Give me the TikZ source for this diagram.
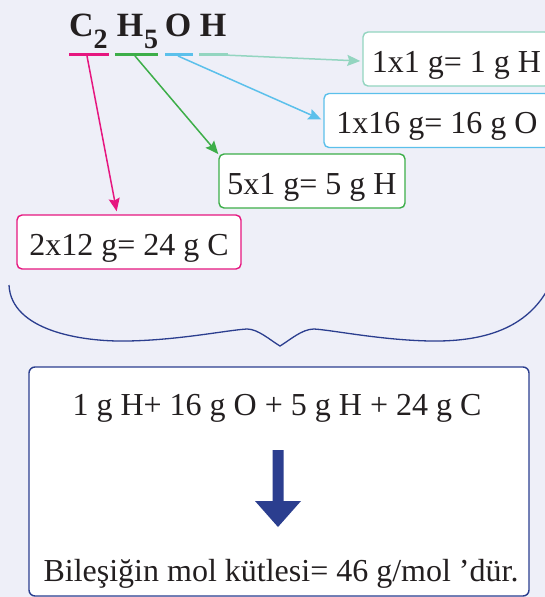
\documentclass[tikz,border=0pt]{standalone}
\usepackage{fontspec}
\setmainfont{Liberation Serif}
\usetikzlibrary{arrows.meta,calc}
\definecolor{bg}{HTML}{EEEFF8}
\definecolor{txt}{HTML}{231F20}
\definecolor{cmag}{HTML}{E6167F}
\definecolor{cgreen}{HTML}{3DAE49}
\definecolor{cblue}{HTML}{5BC0EB}
\definecolor{cteal}{HTML}{93D5C0}
\definecolor{dblue}{HTML}{2B3E8F}
\tikzset{
  valbox/.style={draw=#1, rounded corners=5pt, line width=1.4pt, fill=white,
    text=txt, font=\fontsize{32}{38}\selectfont, text height=26pt, text depth=0pt,
    minimum height=54pt, inner xsep=0pt, inner ysep=0pt},
  glyph/.style={text=txt, inner sep=0pt, anchor=base, font=\bfseries\fontsize{34}{40}\selectfont},
  subglyph/.style={text=txt, inner sep=0pt, anchor=base, font=\bfseries\fontsize{28}{34}\selectfont},
  uline/.style={draw=#1, line width=3pt},
  conn/.style={draw=#1, line width=1.5pt, -{Stealth[length=13pt,width=11pt,inset=2pt]}},
  restext/.style={text=txt, inner sep=0pt, anchor=base, font=\fontsize{32}{38}\selectfont}
}
\begin{document}
\begin{tikzpicture}[x=1pt,y=-1pt]
\fill[bg] (0,0) rectangle (545,597);
\useasboundingbox (0,0) rectangle (545,597);
\clip (0,0) rectangle (545,597);

% formula
\node[glyph] (fC) at (81.5,36) {C};
\node[subglyph] (f2) at (100.5,48) {2};
\node[glyph] (fH1) at (130,36) {H};
\node[subglyph] (f5) at (151,48) {5};
\node[glyph] (fO) at (178,36) {O};
\node[glyph] (fH2) at (213,36) {H};

% underlines
\coordinate (m1) at (69,54.5);  \coordinate (m2) at (109,54.5);
\coordinate (g1) at (115,54.5); \coordinate (g2) at (158,54.5);
\coordinate (b1) at (165,54.5); \coordinate (b2) at (193,54.5);
\coordinate (t1) at (199,54.5); \coordinate (t2) at (228,54.5);
\draw[uline=cmag] (m1) -- (m2);
\draw[uline=cgreen] (g1) -- (g2);
\draw[uline=cblue] (b1) -- (b2);
\draw[uline=cteal] (t1) -- (t2);

% connector start points
\coordinate (ms) at (87,56);
\coordinate (gs) at (135,56);
\coordinate (bs) at (178,56);
\coordinate (ts) at (224,55);

% value boxes
\node[valbox=cteal, minimum width=187pt] (teal) at (456.5,59) {1x1 g= 1 g H};
\node[valbox=cblue, minimum width=226pt] (blue) at (437,120.5) {1x16 g= 16 g O};
\node[valbox=cgreen, minimum width=186pt] (green) at (312,181) {5x1 g= 5 g H};
\node[valbox=cmag, minimum width=224pt] (pink) at (129,242) {2x12 g= 24 g C};

% connectors
\draw[conn=cteal] (ts) -- ($(teal.west)+(-2,2)$);
\draw[conn=cblue] (bs) -- ($(blue.west)+(-2,-1)$);
\draw[conn=cgreen] (gs) -- (green.164);
\draw[conn=cmag] (ms) -- ($(pink.114)+(0,-3)$);

% brace
\draw[dblue, line width=1.3pt]
  (9,285) .. controls (11,330) and (80,342) .. (128,341)
  .. controls (180,340) and (228,330) .. (247,329)
  .. controls (258,329) and (270,340) .. (280,346)
  .. controls (290,340) and (302,329) .. (314,329)
  .. controls (332,330) and (380,340) .. (430,341)
  .. controls (490,342) and (530,325) .. (550,285);

% result box
\node[draw=dblue, line width=1.4pt, fill=white, rounded corners=6pt,
  minimum width=500pt, minimum height=229pt, inner sep=0pt] (res) at (279,481.5) {};
\node[restext] (sum) at (277,415) {1 g H+ 16 g O + 5 g H + 24 g C};
\node[restext] (molar) at (281,581) {Bileşiğin mol kütlesi= 46 g/mol ’dür.};
\fill[dblue] (272.5,450) -- (283.5,450) -- (283.5,501) -- (301,501) -- (278,527)
  -- (255,501) -- (272.5,501) -- cycle;
\end{tikzpicture}
\end{document}
